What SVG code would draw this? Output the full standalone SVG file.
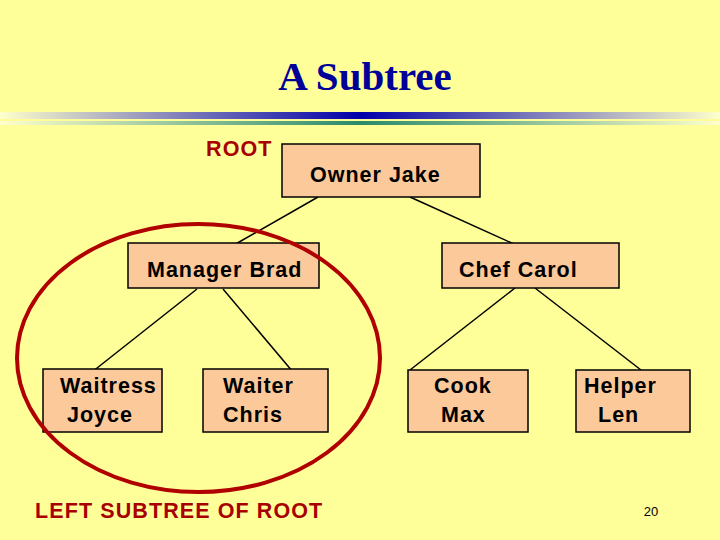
<svg xmlns="http://www.w3.org/2000/svg" width="720" height="540" viewBox="0 0 720 540">
<defs>
<linearGradient id="gb" x1="0" x2="1" y1="0" y2="0">
<stop offset="0" stop-color="#ffffcc"/>
<stop offset="0.5" stop-color="#0000aa"/>
<stop offset="1" stop-color="#ffffcc"/>
</linearGradient>
<linearGradient id="gg" x1="0" x2="1" y1="0" y2="0">
<stop offset="0" stop-color="#ffffcc"/>
<stop offset="0.5" stop-color="#2a8a6a"/>
<stop offset="1" stop-color="#ffffcc"/>
</linearGradient>
<style>
.box{fill:#fcc99a;stroke:#000;stroke-width:1.5}
.t{font-family:"Liberation Sans",Arial,sans-serif;font-size:21.5px;font-weight:bold;letter-spacing:1px;fill:#000}
.r{font-family:"Liberation Sans",Arial,sans-serif;font-size:21.5px;font-weight:bold;letter-spacing:1.1px;fill:#a80000}
.c line{stroke:#000;stroke-width:1.5}
</style>
</defs>
<rect width="720" height="540" fill="#ffff99"/>
<text x="365" y="90" text-anchor="middle" font-family="Liberation Serif,serif" font-weight="bold" font-size="41" fill="#000099">A Subtree</text>
<rect x="0" y="112" width="720" height="7" fill="url(#gb)"/>
<rect x="0" y="121" width="720" height="4" fill="url(#gg)"/>
<text class="r" x="206" y="156">ROOT</text>
<g id="connectors" class="c">
<line x1="318" y1="197" x2="234" y2="245"/>
<line x1="410" y1="197" x2="516" y2="245"/>
<line x1="197" y1="289" x2="92" y2="372"/>
<line x1="223" y1="289" x2="293" y2="372"/>
<line x1="515" y1="288" x2="410" y2="370"/>
<line x1="535" y1="288" x2="641" y2="370"/>
</g>
<g id="owner"><rect class="box" x="282" y="144" width="198" height="53"/><text class="t" x="310" y="182">Owner Jake</text></g>
<g id="manager"><rect class="box" x="128" y="243" width="191" height="45"/><text class="t" x="147" y="277">Manager Brad</text></g>
<g id="chef"><rect class="box" x="442" y="243" width="177" height="45"/><text class="t" x="459" y="277">Chef Carol</text></g>
<g id="waitress"><rect class="box" x="43" y="369" width="119" height="63"/><text class="t" x="60" y="393">Waitress</text><text class="t" x="67" y="422">Joyce</text></g>
<g id="waiter"><rect class="box" x="203" y="369" width="125" height="63"/><text class="t" x="223" y="393">Waiter</text><text class="t" x="223" y="422">Chris</text></g>
<g id="cook"><rect class="box" x="408" y="370" width="120" height="62"/><text class="t" x="434" y="393">Cook</text><text class="t" x="441" y="422">Max</text></g>
<g id="helper"><rect class="box" x="576" y="370" width="114" height="62"/><text class="t" x="584" y="393">Helper</text><text class="t" x="598" y="422">Len</text></g>
<ellipse cx="198.5" cy="358" rx="181.5" ry="134" fill="none" stroke="#b00000" stroke-width="4"/>
<text class="r" x="35" y="518">LEFT SUBTREE OF ROOT</text>
<text x="651" y="516" text-anchor="middle" font-family="Liberation Sans,Arial,sans-serif" font-size="13" fill="#000">20</text>
</svg>
